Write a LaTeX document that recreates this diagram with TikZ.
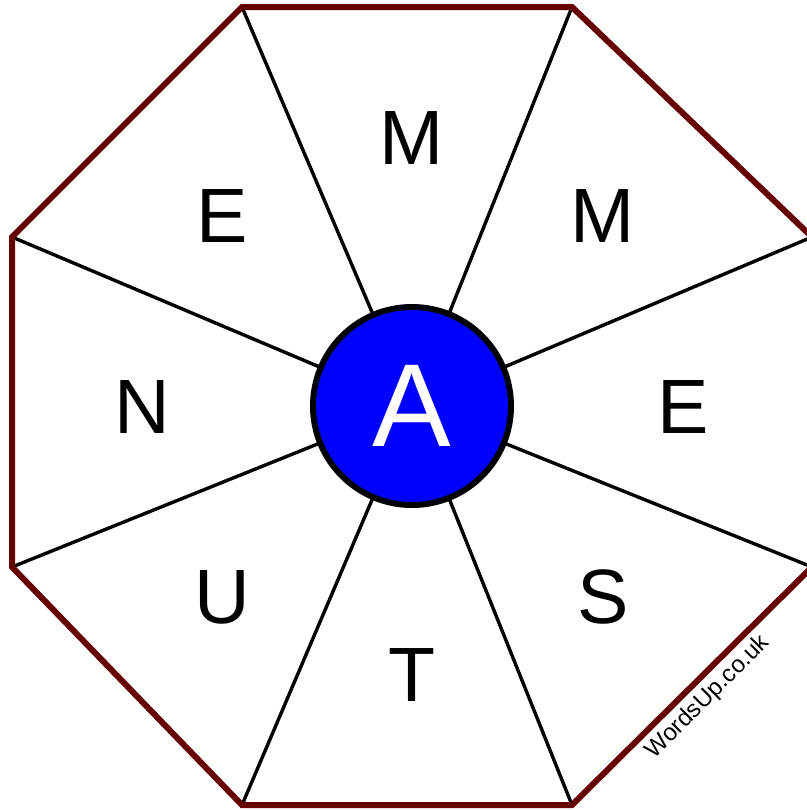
\documentclass[tikz,border=0pt]{standalone}
\usepackage{fontspec}
\setmainfont{Liberation Sans}
\definecolor{rimred}{RGB}{102,0,0}
\definecolor{hubblue}{RGB}{0,0,255}
\usetikzlibrary{positioning}

\begin{document}
\begin{tikzpicture}[
    x=0.5pt, y=-0.5pt,
    rim/.style={draw=rimred, line width=3pt, line join=miter},
    spoke/.style={draw=black, line width=1.7pt},
    hub/.style={circle, draw=black, fill=hubblue, line width=3pt, minimum size=99pt, inner sep=0pt, text=white, font=\fontsize{59}{59}\selectfont},
    letter/.style={inner sep=0pt, font=\fontsize{38.5}{38.5}\selectfont},
    sitemark/.style={rotate=45, inner sep=0pt, font=\fontsize{12}{12}\selectfont}
]
\useasboundingbox (0,0) rectangle (807,810);
\clip (0,0) rectangle (807,810);

% Corners
\coordinate (c1) at (242,7);
\coordinate (c2) at (572,7);
\coordinate (c3) at (812,237);
\coordinate (c4) at (812,567);
\coordinate (c5) at (572,805);
\coordinate (c6) at (242,805);
\coordinate (c7) at (12,567);
\coordinate (c8) at (12,237);

% Spokes
\coordinate (mid) at (412,406);
\draw [spoke] (c1) -- (mid);
\draw [spoke] (c2) -- (mid);
\draw [spoke] (c3) -- (mid);
\draw [spoke] (c4) -- (mid);
\draw [spoke] (c5) -- (mid);
\draw [spoke] (c6) -- (mid);
\draw [spoke] (c7) -- (mid);
\draw [spoke] (c8) -- (mid);

% Rim
\draw [rim] (c1) -- (c2) -- (c3) -- (c4) -- (c5) -- (c6) -- (c7) -- (c8) -- cycle;

% Nodes
\node (hubA) [hub] at (mid) {A};
\node (top) [letter] at (412,138) {M};
\node (topright) [letter] at (603,216) {M};
\node (right) [letter] at (683,407) {E};
\node (botright) [letter] at (603,597) {S};
\node (bottom) [letter] at (412,675) {T};
\node (botleft) [letter] at (222,597) {U};
\node (left) [letter] at (142,407) {N};
\node (topleft) [letter] at (222,216) {E};
\node (site) [sitemark] at (708,697) {WordsUp.co.uk};

\end{tikzpicture}
\end{document}
